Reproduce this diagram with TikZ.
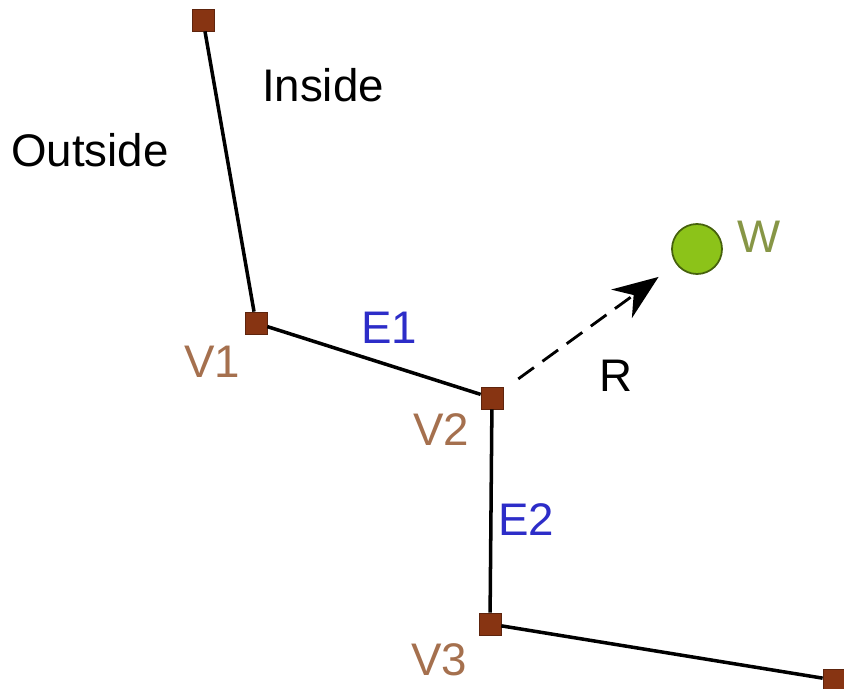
\documentclass[tikz,border=0pt]{standalone}
\usepackage{fontspec}
\setmainfont{Liberation Sans}
\usetikzlibrary{arrows.meta}
\definecolor{vbrown}{RGB}{135,52,18}
\definecolor{vlabel}{RGB}{165,112,78}
\definecolor{elabel}{RGB}{45,45,200}
\definecolor{wgreen}{RGB}{140,195,25}
\definecolor{wlabel}{RGB}{135,150,70}

\begin{document}
\begin{tikzpicture}[
  font=\fontsize{26}{30}\selectfont, >=Stealth,
  vertex/.style={draw=vbrown!70!black,fill=vbrown,minimum size=0.44cm,inner sep=0pt},
  vname/.style={text=vlabel},
  ename/.style={text=elabel},
  edge/.style={line width=2pt},
  ray/.style={line width=1.6pt,dash pattern=on 11pt off 6pt,
              -{Stealth[length=26pt,width=20pt]}},
]
\useasboundingbox (0,0) rectangle (16.88,13.76);
% polygon vertices
\node[vertex] (V0) at (4.06,13.36) {};
\node[vertex] (V1) at (5.12,7.30) {};
\node[vertex] (V2) at (9.84,5.80) {};
\node[vertex] (V3) at (9.80,1.28) {};
\node[vertex] (V4) at (16.68,0.16) {};
% point
\node[circle,draw=wgreen!50!black,fill=wgreen,line width=1pt,minimum size=1.0cm] (W) at (13.94,8.78) {};
% edges
\draw[edge] (V0) -- (V1) -- (V2) -- (V3) -- (V4);
\draw[ray,shorten <=0.65cm,shorten >=0.95cm] (V2.center) -- (W.center);
% labels
\node (inside)  at (6.46,12.06) {Inside};
\node (outside) at (1.80,10.76) {Outside};
\node[ename] (E1) at (7.78,7.20) {E1};
\node[ename] (E2) at (10.52,3.36) {E2};
\node[vname] (l1) at (4.24,6.52) {V1};
\node[vname] (l2) at (8.82,5.16) {V2};
\node[vname] (l3) at (8.78,0.56) {V3};
\node (R) at (12.32,6.24) {R};
\node[text=wlabel] (lw) at (15.18,9.02) {W};
\end{tikzpicture}
\end{document}
